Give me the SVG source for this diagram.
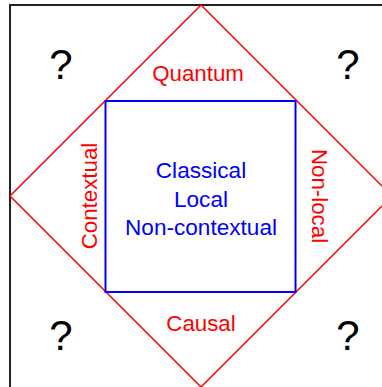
<svg xmlns="http://www.w3.org/2000/svg" width="382" height="387" viewBox="0 0 382 387">
<style>
.t{font-family:"Liberation Sans",Arial,sans-serif;text-anchor:middle}
.red{fill:#ff0000;font-size:22.3px}
.blue{fill:#0000ff;font-size:22.6px}
.q{fill:#000;font-size:42px}
</style>
<rect width="382" height="387" fill="#fff"/>
<g id="frame">
<path d="M10,400 V5 H400" fill="none" stroke="#222" stroke-width="2"/>
</g>
<g id="quantum-diamond">
<polygon points="201,5 392,196 201,387 10,196" fill="none" stroke="#ff0000" stroke-width="1.5"/>
<text class="t red" x="198" y="81">Quantum</text>
<text class="t red" x="201" y="331">Causal</text>
<text class="t red" transform="translate(97,196) rotate(-90)">Contextual</text>
<text class="t red" transform="translate(312,196) rotate(90)">Non-local</text>
</g>
<g id="classical-box">
<rect x="105.5" y="101" width="190" height="191" fill="none" stroke="#0000ff" stroke-width="2"/>
<text class="t blue" x="201" y="178">Classical</text>
<text class="t blue" x="201" y="207">Local</text>
<text class="t blue" x="201" y="235">Non-contextual</text>
</g>
<g id="unknowns">
<text class="t q" x="61" y="79">?</text>
<text class="t q" x="348" y="79">?</text>
<text class="t q" x="61" y="350">?</text>
<text class="t q" x="348" y="350">?</text>
</g>
<g id="connectors"></g>
</svg>
